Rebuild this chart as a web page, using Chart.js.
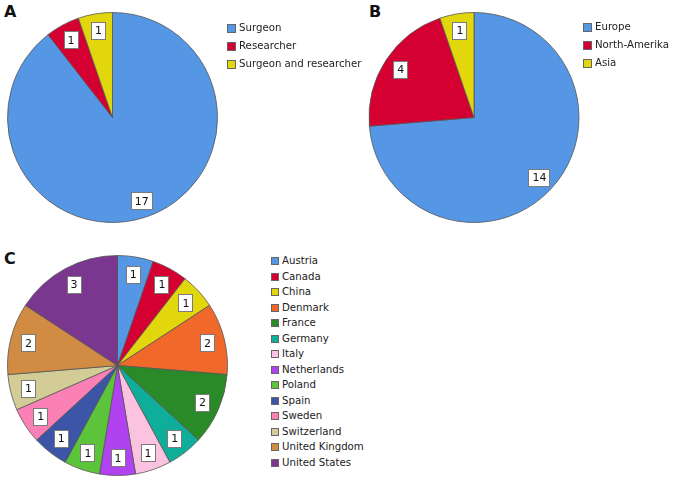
<!DOCTYPE html>
<html>
<head>
<meta charset="utf-8">
<script src="https://cdn.jsdelivr.net/npm/chart.js@4.4.0/dist/chart.umd.min.js"></script>
<style>
  body { margin: 0; width: 678px; height: 481px; background: #fff; overflow: hidden; position: relative; font-family: "DejaVu Sans", sans-serif; }
  canvas { position: absolute; }
  .panel { position: absolute; font: bold 16px "DejaVu Sans", sans-serif; color: #111; }
  .legend { position: absolute; font-size: 10.2px; color: #222; }
  .row { position: absolute; left: 0; white-space: nowrap; }
  .sw { position: absolute; left: 0; border: 1px solid #666; box-sizing: border-box; }
  .lbl { position: absolute; }
</style>
</head>
<body>
<div class="panel" style="left:4px;top:2px">A</div>
<div class="panel" style="left:369px;top:2px">B</div>
<div class="panel" style="left:4px;top:249px">C</div>

<canvas id="chartA" width="225" height="235" style="left:0px;top:0px"></canvas>
<canvas id="chartB" width="230" height="235" style="left:359px;top:0px"></canvas>
<canvas id="chartC" width="235" height="233" style="left:0px;top:249px"></canvas>

<div class="legend" id="legA" style="left:227px;top:0px"></div>
<div class="legend" id="legB" style="left:583px;top:0px"></div>
<div class="legend" id="legC" style="left:271px;top:0px"></div>

<script>
// chart A - profession
let roleLabels = ['Surgeon', 'Researcher', 'Surgeon and researcher']
let roleCounts = [17, 1, 1]
let roleColors = ['#5596e5', '#d50032', '#e2d60c']

// chart B - continent
let continentLabels = ['Europe', 'North-Amerika', 'Asia']
let continentCounts = [14, 4, 1]
let continentColors = ['#5596e5', '#d50032', '#e2d60c']

// chart C - country
let countryLabels = ['Austria', 'Canada', 'China', 'Denmark', 'France', 'Germany', 'Italy',
  'Netherlands', 'Poland', 'Spain', 'Sweden', 'Switzerland', 'United Kingdom', 'United States']
let countryCounts = [1, 1, 1, 2, 2, 1, 1, 1, 1, 1, 1, 1, 2, 3]
let countryColors = ['#5596e5', '#d50032', '#e2d60c', '#f0692a', '#2a8a28', '#0fae9a', '#fbc3e0',
  '#b042ef', '#5cc43a', '#3c55a6', '#fb80b6', '#d3cc97', '#d28b42', '#7b3790']

// white boxes with the count, placed on the middle of each slice
const countBoxes = {
  id: 'countBoxes',
  afterDatasetsDraw(chart) {
    const c = chart.ctx
    const meta = chart.getDatasetMeta(0)
    const values = chart.data.datasets[0].data
    c.save()
    c.font = '11px "DejaVu Sans"'
    c.textAlign = 'center'
    c.textBaseline = 'middle'
    meta.data.forEach((arc, i) => {
      const p = arc.getProps(['x', 'y', 'startAngle', 'endAngle', 'outerRadius'], true)
      const mid = (p.startAngle + p.endAngle) / 2
      const px = p.x + Math.cos(mid) * p.outerRadius * 0.84
      const py = p.y + Math.sin(mid) * p.outerRadius * 0.84
      const txt = String(values[i])
      const w = c.measureText(txt).width + 7
      const h = 17
      c.fillStyle = '#fff'
      c.fillRect(Math.round(px - w / 2) + 0.5, Math.round(py - h / 2) + 0.5, Math.round(w), h)
      c.strokeStyle = '#7a7a7a'
      c.lineWidth = 1
      c.strokeRect(Math.round(px - w / 2) + 0.5, Math.round(py - h / 2) + 0.5, Math.round(w), h)
      c.fillStyle = '#111'
      c.fillText(txt, px + 0.5, py + 1)
    })
    c.restore()
  }
}

function makePie(id, labels, data, colors, r) {
  return new Chart(document.getElementById(id), {
    type: 'pie',
    data: {
      labels: labels,
      datasets: [{
        data: data,
        backgroundColor: colors,
        borderColor: '#555',
        borderWidth: 0.8,
        radius: r
      }]
    },
    options: {
      responsive: false,
      animation: false,
      events: [],
      layout: { padding: 0 },
      plugins: {
        legend: { display: false },
        tooltip: { enabled: false }
      }
    },
    plugins: [countBoxes]
  })
}

function makeLegend(id, labels, colors, firstY, step, sw) {
  const box = document.getElementById(id)
  labels.forEach((name, i) => {
    const cy = firstY + i * step
    const row = document.createElement('div')
    row.className = 'row'
    row.style.top = (cy - 8) + 'px'
    row.style.height = '16px'
    row.innerHTML = '<div class="sw" style="top:' + (8 - sw / 2) + 'px;width:' + sw + 'px;height:' + sw +
      'px;background:' + colors[i] + '"></div><div class="lbl" style="left:' + (sw + 3) +
      'px;top:1px;line-height:14px">' + name + '</div>'
    box.appendChild(row)
  })
}

makePie('chartA', roleLabels, roleCounts, roleColors, 105)
makePie('chartB', continentLabels, continentCounts, continentColors, 105)
makePie('chartC', countryLabels, countryCounts, countryColors, 110)

makeLegend('legA', roleLabels, roleColors, 28, 18, 9)
makeLegend('legB', continentLabels, continentColors, 27, 18, 9)
makeLegend('legC', countryLabels, countryColors, 261, 15.5, 8)
</script>
</body>
</html>
